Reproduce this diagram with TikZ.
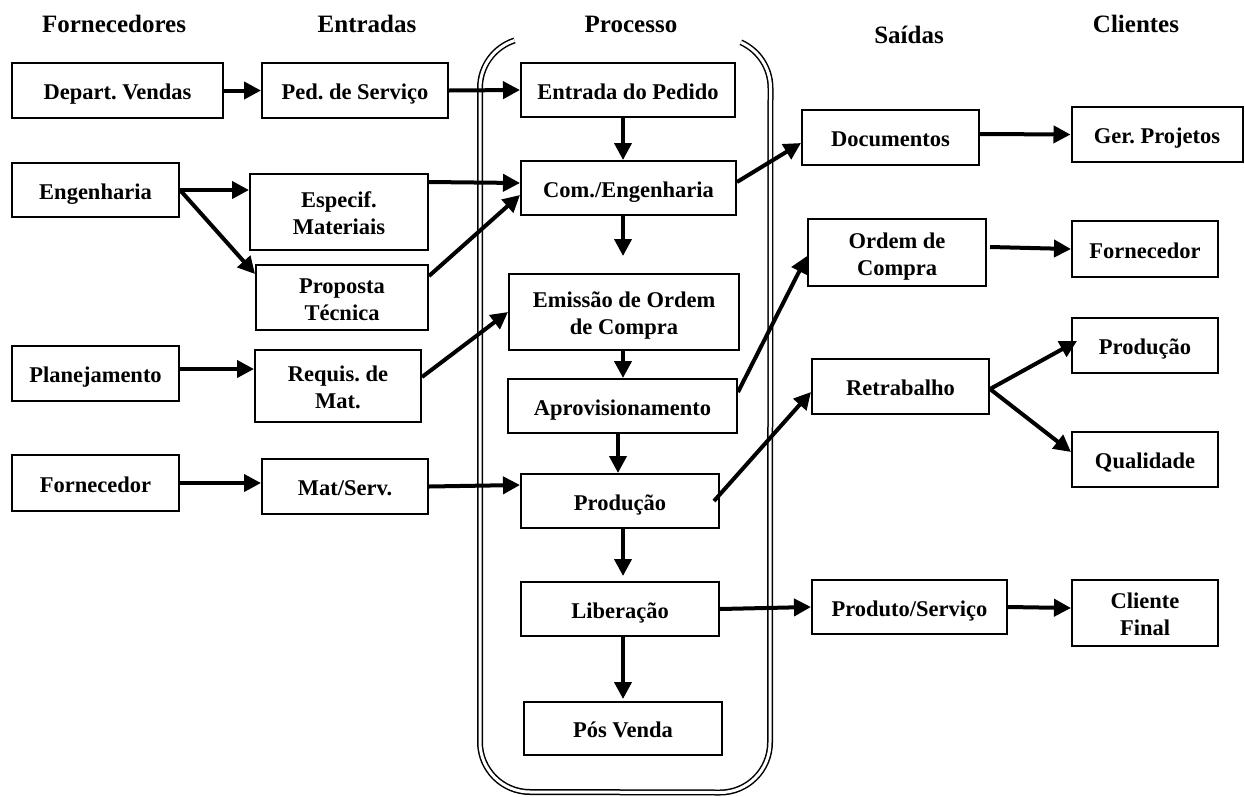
\documentclass[tikz,border=0pt]{standalone}
\usepackage{fontspec}
\setmainfont{Liberation Serif}
\usetikzlibrary{arrows.meta,calc}
\newcommand{\bxfont}{\fontsize{22.5pt}{27pt}\selectfont\bfseries}
\newcommand{\hdfont}{\fontsize{25pt}{30pt}\selectfont\bfseries}
\frenchspacing
\begin{document}
\begin{tikzpicture}[x=1pt,y=-1pt,
  box/.style={draw, line width=2pt, inner sep=0pt, align=center, font=\bxfont, fill=white,
              text height=18pt, text depth=0pt},
  two/.style={text height=45pt, text depth=0pt},
  hdr/.style={anchor=base, font=\hdfont, inner sep=0pt},
  arr/.style={line width=4pt, -{Triangle[length=17pt,width=17pt]}},
  dbl/.style={draw, line width=1.5pt, double distance=3pt}]
\useasboundingbox (0,0) rectangle (1245,796);
\fill[white] (0,0) rectangle (1245,796);

% headers
\node[hdr] (h1) at (114,32) {Fornecedores};
\node[hdr] (h2) at (367,32) {Entradas};
\node[hdr] (h3) at (631,32) {Processo};
\node[hdr] (h4) at (909,43) {Saídas};
\node[hdr] (h5) at (1136,32) {Clientes};

% process frame
\draw[dbl] (530,88) ++(252:50) arc[start angle=252, end angle=180, radius=50]
  -- (480,742) arc[start angle=180, end angle=90, radius=50]
  -- (720,792.5) arc[start angle=90, end angle=0, radius=50]
  -- (770.5,88) arc[start angle=0, end angle=-66, radius=50];

% boxes
\node[box, minimum width=211pt, minimum height=55pt] (dv) at (117.5,90.5) {Depart. Vendas};
\node[box, minimum width=167pt, minimum height=54pt] (eng) at (95.5,190) {Engenharia};
\node[box, minimum width=167pt, minimum height=55pt] (plan) at (95.5,373.5) {Planejamento};
\node[box, minimum width=167pt, minimum height=56pt] (forn1) at (95.5,483) {Fornecedor};

\node[box, minimum width=186pt, minimum height=55pt] (ps) at (355,90.5) {Ped. de Serviço};
\node[box, two, minimum width=178pt, minimum height=76pt] (esp) at (339,212) {Especif.\\Materiais};
\node[box, two, minimum width=172pt, minimum height=65pt] (prop) at (342,297.5) {Proposta\\Técnica};
\node[box, two, minimum width=166pt, minimum height=72pt] (req) at (338,386) {Requis. de\\Mat.};
\node[box, minimum width=166pt, minimum height=55pt] (mat) at (345,486.5) {Mat/Serv.};

\node[box, minimum width=214pt, minimum height=54pt] (ent) at (628,90) {Entrada do Pedido};
\node[box, minimum width=215pt, minimum height=54pt] (com) at (628.5,188) {Com./Engenharia};
\node[box, two, minimum width=230pt, minimum height=76pt] (emi) at (624,312) {Emissão de Ordem\\de Compra};
\node[box, minimum width=229pt, minimum height=54pt] (apr) at (622.5,406) {Aprovisionamento};
\node[box, minimum width=198pt, minimum height=54pt] (prod) at (620,501) {Produção};
\node[box, minimum width=198pt, minimum height=54pt] (lib) at (620,609) {Liberação};
\node[box, minimum width=198pt, minimum height=53pt] (pos) at (623,728.5) {Pós Venda};

\node[box, minimum width=177pt, minimum height=55pt] (doc) at (890.5,137.5) {Documentos};
\node[box, two, minimum width=178pt, minimum height=67pt] (oc) at (897,252.5) {Ordem de\\Compra};
\node[box, minimum width=177pt, minimum height=55pt] (ret) at (900.5,386.5) {Retrabalho};
\node[box, minimum width=195pt, minimum height=54pt] (pserv) at (909.5,607) {Produto/Serviço};

\node[box, minimum width=171pt, minimum height=55pt] (gp) at (1157,134.5) {Ger. Projetos};
\node[box, minimum width=146pt, minimum height=56pt] (forn2) at (1145,249) {Fornecedor};
\node[box, minimum width=146pt, minimum height=55pt] (prod2) at (1145,345.5) {Produção};
\node[box, minimum width=146pt, minimum height=55pt] (qual) at (1145,459.5) {Qualidade};
\node[box, two, minimum width=146pt, minimum height=66pt] (cf) at (1145,613) {Cliente\\Final};

% connectors
\draw[arr] (dv.east) -- (ps.west);
\draw[arr] (ps.east) -- (ent.west);
\draw[arr] ([xshift=-5pt]ent.south) -- ([xshift=-5.5pt]com.north);
\draw[arr] ([xshift=-5.5pt]com.south) -- ([xshift=-1pt,yshift=17pt]emi.north);
\draw[arr] ([xshift=-1pt]emi.south) -- ([xshift=0.5pt]apr.north);
\draw[arr] ([xshift=-4.5pt]apr.south) -- ([xshift=-2pt]prod.north);
\draw[arr] ([xshift=3pt]prod.south) -- ([xshift=3pt,yshift=5pt]lib.north);
\draw[arr] ([xshift=3pt]lib.south) -- ([yshift=2pt]pos.north);

\draw[arr] (eng.east) -- (esp.west |- eng.east);
\draw[arr] (eng.east) -- ([yshift=23.5pt]prop.west);
\draw[arr] ([yshift=30pt]esp.east) -- ([yshift=5pt]com.west);
\draw[arr] ([yshift=21.5pt]prop.east) -- ([yshift=-7pt]com.west);
\draw[arr] ([yshift=9pt]req.east) -- (emi.west);
\draw[arr] ([yshift=4.5pt]plan.east) -- ([yshift=17pt]req.west);
\draw[arr] (forn1.east) -- ([yshift=3.5pt]mat.west);
\draw[arr] (mat.east) -- ([yshift=16pt]prod.west);

\draw[arr] ([yshift=6pt]com.east) -- ([yshift=-5.5pt]doc.west);
\draw[arr] ([yshift=14pt]apr.east) -- ([yshift=-3.5pt]oc.west);
\draw[arr] ([xshift=-6pt]prod.east) -- ([yshift=-5.5pt]ret.west);

\draw[arr] ([yshift=3.5pt]doc.east) -- (gp.west);
\draw[arr] ([xshift=3pt,yshift=5.5pt]oc.east) -- (forn2.west);
\draw[arr] ([yshift=-2.5pt]ret.east) -- ([xshift=6pt,yshift=4.5pt]prod2.west);
\draw[arr] ([yshift=-2.5pt]ret.east) -- ([yshift=7.5pt]qual.west);
\draw[arr] (lib.east) -- (pserv.west);
\draw[arr] (pserv.east) -- ([yshift=5pt]cf.west);
\end{tikzpicture}
\end{document}
